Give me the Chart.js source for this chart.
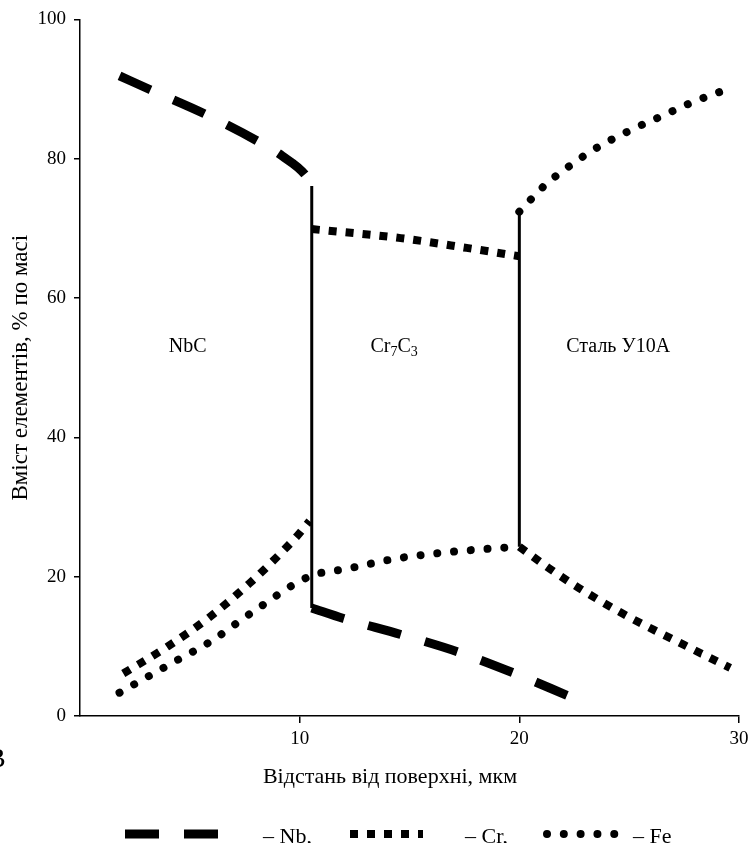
<!DOCTYPE html>
<html>
<head>
<meta charset="utf-8">
<script src="https://cdn.jsdelivr.net/npm/chart.js@4.4.1/dist/chart.umd.min.js"></script>
<style>
  html, body { margin: 0; padding: 0; background: #fff; }
</style>
</head>
<body>
<canvas id="chart" width="748" height="843"></canvas>
<script>
var serif = "'Liberation Serif', 'Times New Roman', serif";

// ---- data (x = відстань, мкм; y = вміст, %) ----
var nbTopX = [1.8, 3.2, 5.7, 8.1, 9.2, 10.3, 10.55];
var nbTopY = [91.9, 89.9, 86.4, 82.5, 80.4, 77.5, 76.1];
var nbLowX = [10.55, 12.0, 14.6, 17.2, 19.8, 22.3];
var nbLowY = [15.5, 14.0, 11.7, 9.2, 6.1, 2.8];

var crLeftX = [1.97, 4.0, 5.9, 7.7, 8.8, 9.9, 10.45];
var crLeftY = [6.1, 10.0, 14.2, 19.0, 22.3, 25.9, 28.0];
var crMidX = [10.55, 14.6, 17.6, 20.0];
var crMidY = [69.9, 68.6, 67.2, 66.0];
var crRightX = [20.0, 21.4, 22.7, 24.7, 26.1, 27.5, 29.6];
var crRightY = [24.3, 21.1, 18.4, 14.7, 12.4, 10.2, 6.9];

var feLowX = [1.8, 4.5, 5.9, 7.8, 10.5, 12.1, 14.4, 16.7, 19.0, 20.0];
var feLowY = [3.35, 8.15, 10.6, 14.8, 20.1, 21.1, 22.6, 23.5, 24.1, 24.3];
var feTopX = [20.0, 21.1, 22.3, 23.6, 25.0, 26.4, 27.8, 29.3];
var feTopY = [72.4, 76.0, 79.0, 81.7, 84.0, 86.0, 88.0, 89.8];

// phase boundaries (solid verticals)
var boundX = [10.55, 20.0];
var boundTop = [76.1, 72.4];
var boundBottom = [15.5, 24.3];

var xTicks = [10, 20, 30];
var seriesNames = ['Nb', 'Cr', 'Fe'];
var xTitle = 'Відстань від поверхні, мкм';
var zones = [
    { x: 4.9, y: 53.3, parts: [['NbC', 0]] },
    { x: 14.3, y: 53.3, parts: [['Cr', 0], ['7', 1], ['C', 0], ['3', 1]] },
    { x: 24.5, y: 53.3, parts: [['Сталь У10А', 0]] }
];

function seg(xs, ys) {
    return xs.map(function (x, i) { return { x: x, y: ys[i] }; });
}

function join(parts) {
    var out = [];
    parts.forEach(function (p, i) {
        if (i > 0) out.push({ x: p[0].x, y: null });
        out = out.concat(p);
    });
    return out;
}

var boundData = [];
boundX.forEach(function (x, i) {
    if (i > 0) boundData.push({ x: x, y: null });
    boundData.push({ x: x, y: boundTop[i] });
    boundData.push({ x: x, y: boundBottom[i] });
});

/*
----------------------------------
     zone labels, x title, legend, stray letter
----------------------------------
*/
const extras = {
    id: 'extras',
    afterDraw(chart) {
        var ctx = chart.ctx;
        var xs = chart.scales.x, ys = chart.scales.y;
        ctx.save();
        ctx.fillStyle = '#000';
        ctx.textBaseline = 'alphabetic';

        zones.forEach(function (z) {
            var w = 0;
            z.parts.forEach(function (p) {
                ctx.font = (p[1] ? '14px ' : '20px ') + serif;
                w += ctx.measureText(p[0]).width;
            });
            var px = xs.getPixelForValue(z.x) - w / 2;
            var py = ys.getPixelForValue(z.y) + 7;
            z.parts.forEach(function (p) {
                ctx.font = (p[1] ? '14px ' : '20px ') + serif;
                ctx.fillText(p[0], px, py + (p[1] ? 4 : 0));
                px += ctx.measureText(p[0]).width;
            });
        });

        // x axis title, sits a bit left of the axis centre in the original
        ctx.font = '22px ' + serif;
        ctx.textAlign = 'center';
        ctx.fillText(xTitle, 390, 783);
        ctx.textAlign = 'left';

        // legend at the bottom
        var spots = [[125, 220, 263], [350, 423, 465], [547, 615, 633]];
        chart.data.datasets.slice(0, 3).forEach(function (ds, i) {
            var s = spots[i];
            var y = 834;
            ctx.save();
            ctx.strokeStyle = '#000';
            ctx.lineWidth = ds.borderWidth;
            ctx.lineCap = ds.borderCapStyle || 'butt';
            ctx.setLineDash(ds.borderDash || []);
            ctx.beginPath();
            ctx.moveTo(s[0], y);
            ctx.lineTo(s[1], y);
            ctx.stroke();
            ctx.restore();
            ctx.font = '22px ' + serif;
            ctx.fillText('– ' + ds.label + (i < 2 ? ',' : ''), s[2], 843);
        });

        // cut-off letter at the left edge
        ctx.font = '28px ' + serif;
        ctx.fillText('В', -13, 767);
        ctx.restore();
    }
};

new Chart(document.getElementById('chart'), {
    type: 'line',
    data: {
        datasets: [
            {
                label: seriesNames[0],
                data: join([seg(nbTopX, nbTopY), seg(nbLowX, nbLowY)]),
                borderColor: '#000',
                borderWidth: 9,
                borderDash: [34, 25],
                borderCapStyle: 'butt',
                cubicInterpolationMode: 'monotone'
            },
            {
                label: seriesNames[1],
                data: join([seg(crLeftX, crLeftY), seg(crMidX, crMidY), seg(crRightX, crRightY)]),
                borderColor: '#000',
                borderWidth: 8,
                borderDash: [8, 9],
                borderCapStyle: 'butt',
                cubicInterpolationMode: 'monotone'
            },
            {
                label: seriesNames[2],
                data: join([seg(feLowX, feLowY), seg(feTopX, feTopY)]),
                borderColor: '#000',
                borderWidth: 8,
                borderDash: [0.01, 16.8],
                borderCapStyle: 'round',
                cubicInterpolationMode: 'monotone'
            },
            {
                label: 'boundary',
                data: boundData,
                borderColor: '#000',
                borderWidth: 3,
                tension: 0
            }
        ]
    },
    options: {
        responsive: false,
        animation: false,
        layout: { padding: { top: 10, right: 0, bottom: 45, left: 0 } },
        elements: { point: { radius: 0, hoverRadius: 0 } },
        plugins: {
            legend: { display: false },
            tooltip: { enabled: false }
        },
        scales: {
            x: {
                type: 'linear',
                min: 0,
                max: 30,
                afterBuildTicks: function (scale) {
                    scale.ticks = xTicks.map(function (v) { return { value: v }; });
                },
                afterFit: function (scale) {
                    scale.height = 82;
                    scale.paddingRight = 9;   // let the "30" label run off the edge
                },
                grid: { drawOnChartArea: false, tickLength: 7, color: '#000', lineWidth: 1.5 },
                border: { color: '#000', width: 1.5 },
                ticks: { color: '#000', padding: 5, maxRotation: 0, font: { family: serif, size: 19 } }
            },
            y: {
                min: 0,
                max: 100,
                afterFit: function (scale) { scale.width = 80; },
                grid: { drawOnChartArea: false, tickLength: 6, color: '#000', lineWidth: 1.5 },
                border: { color: '#000', width: 1.5 },
                ticks: { stepSize: 20, color: '#000', padding: 8, font: { family: serif, size: 19 } },
                title: {
                    display: true,
                    text: 'Вміст елементів, % по масі',
                    color: '#000',
                    padding: { top: 7, bottom: 0 },
                    font: { family: serif, size: 23 }
                }
            }
        }
    },
    plugins: [extras]
});
</script>
</body>
</html>
